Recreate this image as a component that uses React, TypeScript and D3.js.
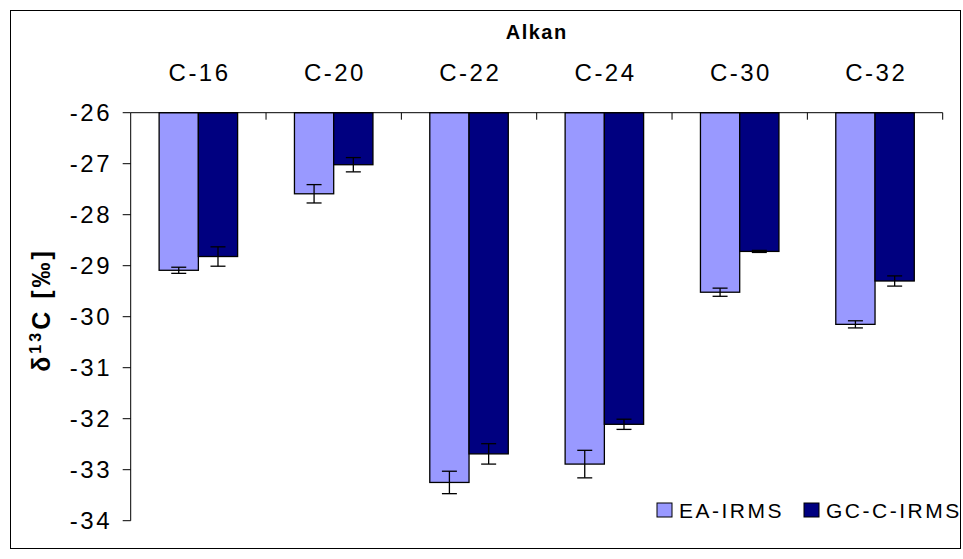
import * as d3 from 'd3'

const W = 963, H = 559
const M = { top: 112.7, right: 20.3, bottom: 38.3, left: 130.7 }

const CATEGORIES = ['C-16', 'C-20', 'C-22', 'C-24', 'C-30', 'C-32']
const EA_VALUES = [-29.09, -27.59, -33.25, -32.89, -29.52, -30.15]
const EA_ERRORS = [0.06, 0.18, 0.22, 0.27, 0.08, 0.07]
const GC_VALUES = [-28.82, -27.02, -32.69, -32.11, -28.72, -29.3]
const GC_ERRORS = [0.19, 0.14, 0.2, 0.1, 0.02, 0.1]
const Y_TICKS = [-26, -27, -28, -29, -30, -31, -32, -33, -34]

const SERIES = [
  { key: 'EA-IRMS', values: EA_VALUES, errors: EA_ERRORS, color: '#9999FF' },
  { key: 'GC-C-IRMS', values: GC_VALUES, errors: GC_ERRORS, color: '#000080' },
]

const FONT = '"Liberation Sans", Arial, sans-serif'

export default function App() {
  const iw = W - M.left - M.right

  const x = d3.scaleBand<string>().domain(CATEGORIES).range([M.left, M.left + iw])
  const x1 = d3.scaleBand<string>().domain(SERIES.map(s => s.key))
    .range([x.bandwidth() * 0.21, x.bandwidth() * 0.79])
  const y = d3.scaleLinear().domain([-26, -34]).range([M.top, 520.7])

  const bw = x1.bandwidth()
  const legendX = [657, 804]

  return (
    <svg width={W} height={H} style={{ position: 'absolute', left: 0, top: 0, background: '#fff' }}
      fontFamily={FONT}>
      <rect x={10.5} y={10.5} width={950} height={538} fill="none" stroke="#000" strokeWidth={1} />

      {/* title */}
      <text x={M.left + iw / 2} y={39} textAnchor="middle" fontSize={20} fontWeight="bold" letterSpacing={1.5}>Alkan</text>

      {/* category labels on top */}
      {CATEGORIES.map(c => (
        <text key={c} x={x(c)! + x.bandwidth() / 2 + 1.2} y={80.5} textAnchor="middle" fontSize={24} letterSpacing={2.5}>{c}</text>
      ))}

      {/* bars */}
      {CATEGORIES.map((c, i) => (
        <g key={c} transform={`translate(${x(c)},0)`}>
          {SERIES.map(s => {
            const v = s.values[i]
            const e = s.errors[i]
            const bx = x1(s.key)!
            const cx = bx + bw / 2
            return (
              <g key={s.key}>
                <rect x={bx} y={y(-26)} width={bw} height={y(v) - y(-26)}
                  fill={s.color} stroke="#000" strokeWidth={1.3} />
                <line x1={cx} x2={cx} y1={y(v + e)} y2={y(v - e)} stroke="#000" strokeWidth={1.3} />
                <line x1={cx - 7.5} x2={cx + 7.5} y1={y(v + e)} y2={y(v + e)} stroke="#000" strokeWidth={1.3} />
                <line x1={cx - 7.5} x2={cx + 7.5} y1={y(v - e)} y2={y(v - e)} stroke="#000" strokeWidth={1.3} />
              </g>
            )
          })}
        </g>
      ))}

      {/* top category axis */}
      <line x1={M.left} x2={M.left + iw} y1={y(-26)} y2={y(-26)} stroke="#000" strokeWidth={1} />
      {CATEGORIES.map(c => (
        <line key={c} x1={x(c)! + x.bandwidth()} x2={x(c)! + x.bandwidth()} y1={y(-26)} y2={y(-26) + 7}
          stroke="#000" strokeWidth={1} />
      ))}

      {/* y axis */}
      <line x1={M.left} x2={M.left} y1={y(-26)} y2={y(-34)} stroke="#000" strokeWidth={1} />
      {Y_TICKS.map(t => (
        <g key={t}>
          <line x1={M.left - 8} x2={M.left} y1={y(t)} y2={y(t)} stroke="#000" strokeWidth={1} />
          <text x={112} y={y(t)} dy="0.36em" textAnchor="end" fontSize={24} letterSpacing={2.5}>{t}</text>
        </g>
      ))}

      {/* y label */}
      <text transform={`translate(50,310) rotate(-90)`} textAnchor="middle"
        fontSize={25} fontWeight="bold" letterSpacing={3}>
        δ<tspan fontSize={16} dy={-9}>13</tspan><tspan dy={9}>C [‰]</tspan>
      </text>

      {/* legend */}
      {SERIES.map((s, i) => (
        <g key={s.key} transform={`translate(${legendX[i]},510)`}>
          <rect x={0} y={-7} width={15} height={14} fill={s.color} stroke="#000" strokeWidth={1} />
          <text x={22} y={0} dy="0.36em" fontSize={21} letterSpacing={2.5}>{s.key}</text>
        </g>
      ))}
    </svg>
  )
}
